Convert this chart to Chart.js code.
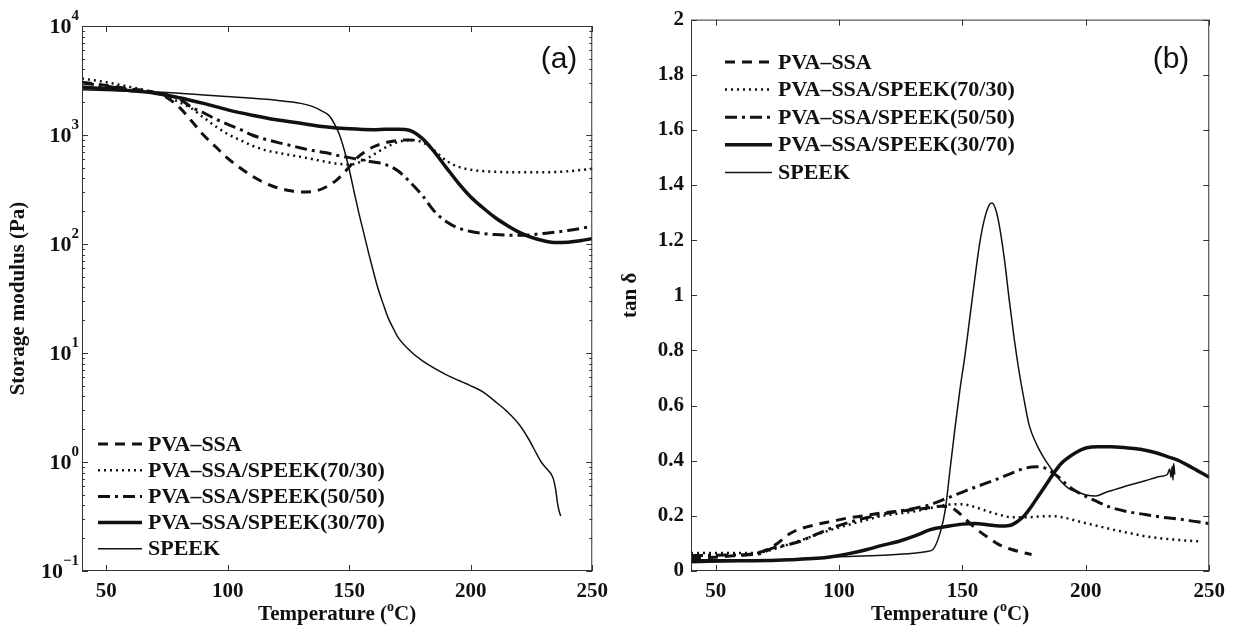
<!DOCTYPE html>
<html>
<head>
<meta charset="utf-8">
<script src="https://cdn.jsdelivr.net/npm/chart.js@4.4.1/dist/chart.umd.min.js"></script>
<style>
html, body { margin: 0; padding: 0; background: #fff; }
#wrap { position: relative; width: 1233px; height: 629px; }
canvas { position: absolute; top: 0; }
#left { left: 0; }
#right { left: 616px; }
</style>
</head>
<body>
<div id="wrap">
<canvas id="left" width="616" height="629"></canvas>
<canvas id="right" width="617" height="629"></canvas>
</div>
<script>
// series names (same order in both panels)
var names = ['PVA\u2013SSA', 'PVA\u2013SSA/SPEEK(70/30)', 'PVA\u2013SSA/SPEEK(50/50)', 'PVA\u2013SSA/SPEEK(30/70)', 'SPEEK'];

var xTicks = [50, 100, 150, 200, 250];
var yTicksA = [0.1, 1, 10, 100, 1000, 10000];
var yTicksB = [0, 0.2, 0.4, 0.6, 0.8, 1, 1.2, 1.4, 1.6, 1.8, 2];

// (a) storage modulus, Pa
var tG_pva = [40, 50, 60, 70, 75, 80, 85, 90, 95, 100, 105, 110, 115, 120, 125, 130, 135, 140, 145, 150, 153, 156, 160, 165, 170, 175, 178];
var G_pva = [3050, 2850, 2650, 2450, 2200, 1800, 1350, 1000, 780, 610, 500, 420, 365, 330, 310, 300, 303, 330, 390, 510, 610, 690, 780, 850, 890, 900, 890];

var tG_7030 = [40, 50, 60, 70, 75, 80, 85, 90, 95, 100, 105, 110, 115, 120, 125, 130, 135, 140, 145, 150, 155, 160, 165, 170, 175, 180, 185, 190, 195, 200, 210, 220, 230, 240, 250];
var G_7030 = [3300, 3050, 2750, 2450, 2250, 2000, 1760, 1450, 1200, 1020, 900, 800, 730, 690, 660, 630, 600, 570, 545, 535, 570, 660, 770, 860, 900, 860, 720, 580, 510, 480, 460, 455, 455, 465, 490];

var tG_5050 = [40, 50, 60, 70, 80, 85, 90, 95, 100, 105, 110, 115, 120, 125, 130, 135, 140, 145, 150, 155, 160, 165, 170, 175, 180, 185, 190, 195, 200, 205, 210, 220, 230, 240, 250];
var G_5050 = [3000, 2800, 2600, 2450, 2150, 1800, 1600, 1400, 1250, 1130, 1000, 920, 860, 810, 760, 720, 690, 650, 620, 590, 565, 535, 470, 370, 280, 200, 160, 140, 130, 125, 122, 120, 125, 133, 145];

var tG_3070 = [40, 50, 60, 70, 80, 90, 100, 110, 120, 130, 140, 150, 160, 165, 170, 175, 180, 185, 190, 195, 200, 205, 210, 215, 220, 225, 230, 235, 240, 245, 250];
var G_3070 = [2750, 2650, 2550, 2420, 2200, 1950, 1700, 1520, 1380, 1280, 1190, 1140, 1120, 1130, 1130, 1100, 930, 700, 500, 360, 270, 215, 175, 148, 128, 115, 107, 103, 104, 107, 112];

var tG_speek = [40, 60, 80, 100, 120, 130, 135, 139, 142, 144, 146, 148, 150, 152, 154, 156, 158, 160, 162, 164, 166, 168, 170, 175, 180, 190, 200, 205, 210, 215, 220, 224, 227, 229, 231, 233, 234, 235, 235.7, 236.3, 237];
var G_speek = [2600, 2520, 2420, 2250, 2080, 1950, 1820, 1650, 1480, 1250, 1000, 720, 480, 300, 190, 125, 82, 55, 38, 28, 21, 17, 14, 10.5, 8.5, 6.3, 5.0, 4.4, 3.6, 2.9, 2.2, 1.6, 1.2, 1.0, 0.88, 0.78, 0.7, 0.55, 0.42, 0.36, 0.32];

// (b) tan delta
var tD_pva = [40, 50, 57, 65, 70, 75, 80, 85, 90, 97, 104, 110, 117, 124, 131, 137, 141, 145, 148, 151, 154, 157, 161, 165, 170, 174, 178];
var D_pva = [0.046, 0.05, 0.055, 0.062, 0.075, 0.1, 0.135, 0.155, 0.167, 0.18, 0.193, 0.2, 0.21, 0.217, 0.223, 0.23, 0.235, 0.232, 0.215, 0.19, 0.165, 0.143, 0.118, 0.095, 0.078, 0.068, 0.06];

var tD_7030 = [40, 55, 67, 72, 77, 84, 91, 97, 104, 111, 117, 124, 131, 138, 144, 150, 155, 160, 165, 170, 177, 182, 187, 192, 197, 204, 211, 218, 224, 231, 237, 243, 247];
var D_7030 = [0.065, 0.065, 0.066, 0.075, 0.089, 0.11, 0.132, 0.15, 0.168, 0.185, 0.199, 0.208, 0.217, 0.23, 0.241, 0.242, 0.232, 0.217, 0.204, 0.195, 0.195, 0.198, 0.199, 0.192, 0.18, 0.165, 0.15, 0.137, 0.126, 0.118, 0.113, 0.109, 0.107];

var tD_5050 = [40, 55, 67, 73, 79, 84, 90, 97, 104, 111, 117, 124, 131, 137, 144, 151, 157, 164, 170, 175, 180, 183, 186, 189, 192, 195, 199, 204, 210, 217, 224, 231, 238, 244, 250];
var D_5050 = [0.056, 0.058, 0.061, 0.083, 0.095, 0.107, 0.13, 0.156, 0.176, 0.193, 0.205, 0.217, 0.228, 0.241, 0.265, 0.29, 0.31, 0.333, 0.355, 0.372, 0.378, 0.375, 0.36, 0.34, 0.315, 0.295, 0.275, 0.254, 0.231, 0.215, 0.205, 0.195, 0.188, 0.18, 0.172];

var tD_3070 = [40, 60, 71, 80, 91, 97, 104, 111, 117, 124, 131, 137, 144, 150, 155, 160, 165, 169, 172, 175, 178, 181, 184, 187, 190, 193, 196, 200, 205, 210, 217, 223, 228, 233, 237, 241, 245, 250];
var D_3070 = [0.037, 0.037, 0.038, 0.041, 0.046, 0.052, 0.063, 0.077, 0.092, 0.107, 0.128, 0.15, 0.162, 0.17, 0.172, 0.168, 0.163, 0.165, 0.178, 0.2, 0.235, 0.275, 0.315, 0.355, 0.39, 0.412, 0.43, 0.446, 0.451, 0.451, 0.446, 0.44, 0.43, 0.415, 0.403, 0.385, 0.365, 0.34];

var tD_speek = [40, 60, 80, 100, 120, 130, 135, 138, 141, 143, 145, 147, 149, 151, 153, 155, 157, 159, 161, 162, 163.5, 165, 167, 169, 171, 173, 175, 177, 180, 183, 186, 189, 193, 197, 200, 204, 208, 212, 217, 224, 230, 233, 234, 234.5, 235, 235.3, 235.6, 236];
var D_speek = [0.03, 0.035, 0.042, 0.052, 0.058, 0.064, 0.07, 0.078, 0.14, 0.22, 0.37, 0.52, 0.66, 0.78, 0.92, 1.06, 1.19, 1.28, 1.33, 1.335, 1.31, 1.25, 1.13, 0.98, 0.84, 0.72, 0.62, 0.53, 0.46, 0.41, 0.37, 0.335, 0.3, 0.285, 0.276, 0.272, 0.285, 0.296, 0.31, 0.327, 0.343, 0.35, 0.37, 0.34, 0.38, 0.33, 0.39, 0.35];

// line styles
var widths = [3, 2.5, 3, 3.5, 1.5];
var dashes = [[10, 7], [2, 4], [12, 5, 3, 5], [], []];

var serif = "'Liberation Serif', 'Times New Roman', serif";
var ink = '#111';

function makeSets(tList, vList) {
    return names.map(function (n, i) {
        return {
            label: n,
            data: tList[i].map(function (t, k) { return { x: t, y: vList[i][k] }; }),
            borderColor: ink,
            backgroundColor: ink,
            borderWidth: widths[i],
            borderDash: dashes[i],
            pointRadius: 0,
            pointStyle: 'line',
            fill: false,
            tension: 0.4,
            cubicInterpolationMode: 'monotone'
        };
    });
}

// frame with inward ticks, panel letter, legend and x title
var boxPlugin = {
    id: 'box',
    afterDatasetsDraw: function (chart, args, o) {
        var ctx = chart.ctx, a = chart.chartArea, x = chart.scales.x, y = chart.scales.y;
        ctx.save();
        ctx.setLineDash([]);
        ctx.strokeStyle = '#333';
        ctx.lineWidth = 1;
        ctx.strokeRect(a.left + 0.5, a.top + 0.5, a.right - a.left - 1, a.bottom - a.top - 1);
        ctx.beginPath();
        x.ticks.forEach(function (t) {
            var px = Math.round(x.getPixelForValue(t.value)) + 0.5;
            ctx.moveTo(px, a.bottom); ctx.lineTo(px, a.bottom - 6);
            ctx.moveTo(px, a.top); ctx.lineTo(px, a.top + 6);
        });
        y.ticks.forEach(function (t) {
            var py = Math.round(y.getPixelForValue(t.value)) + 0.5;
            ctx.moveTo(a.left, py); ctx.lineTo(a.left + 6, py);
            ctx.moveTo(a.right, py); ctx.lineTo(a.right - 6, py);
        });
        (o.minor || []).forEach(function (v) {
            var py = Math.round(y.getPixelForValue(v)) + 0.5;
            ctx.moveTo(a.left, py); ctx.lineTo(a.left + 3, py);
            ctx.moveTo(a.right, py); ctx.lineTo(a.right - 3, py);
        });
        ctx.stroke();

        // panel letter
        ctx.fillStyle = ink;
        ctx.font = "30px 'Liberation Sans', Arial, sans-serif";
        ctx.textAlign = 'center';
        ctx.textBaseline = 'middle';
        ctx.fillText(o.letter, o.letterX, o.letterY);

        // legend
        ctx.font = 'bold 22px ' + serif;
        ctx.textAlign = 'left';
        chart.data.datasets.forEach(function (ds, i) {
            var ry = o.legY + i * o.legStep;
            ctx.beginPath();
            ctx.lineWidth = ds.borderWidth;
            ctx.setLineDash(ds.borderDash || []);
            ctx.strokeStyle = ink;
            ctx.moveTo(o.legX1, ry);
            ctx.lineTo(o.legX2, ry);
            ctx.stroke();
            ctx.setLineDash([]);
            ctx.fillText(ds.label, o.legTx, ry + 1);
        });

        // x axis title with superscript o
        var f1 = 'bold 21px ' + serif, f2 = 'bold 14px ' + serif;
        var p1 = 'Temperature (', p2 = 'o', p3 = 'C)';
        ctx.font = f1;
        var w1 = ctx.measureText(p1).width, w3 = ctx.measureText(p3).width;
        ctx.font = f2;
        var w2 = ctx.measureText(p2).width;
        var cx = (a.left + a.right) / 2, tx = cx - (w1 + w2 + w3) / 2, ty = 615;
        ctx.font = f1;
        ctx.fillText(p1, tx, ty);
        ctx.fillText(p3, tx + w1 + w2, ty);
        ctx.font = f2;
        ctx.fillText(p2, tx + w1, ty - 8);
        ctx.restore();
    }
};

// 10^n labels for the log axis
var logLabels = {
    id: 'logLabels',
    afterDraw: function (chart, args, o) {
        if (!o.on) return;
        var ctx = chart.ctx, y = chart.scales.y;
        ctx.save();
        ctx.fillStyle = ink;
        ctx.textBaseline = 'middle';
        ctx.textAlign = 'left';
        yTicksA.forEach(function (v) {
            var n = Math.round(Math.log10(v));
            var ex = n < 0 ? '\u2212' + (-n) : String(n);
            var py = y.getPixelForValue(v);
            ctx.font = 'bold 15px ' + serif;
            var we = ctx.measureText(ex).width;
            ctx.font = 'bold 22px ' + serif;
            var wb = ctx.measureText('10').width;
            var xr = o.right;
            ctx.fillText('10', xr - we - wb, py + 1);
            ctx.font = 'bold 15px ' + serif;
            ctx.fillText(ex, xr - we, py - 10);
        });
        ctx.restore();
    }
};

function xScale() {
    return {
        type: 'linear',
        min: 40,
        max: 250,
        afterBuildTicks: function (s) { s.ticks = xTicks.map(function (v) { return { value: v }; }); },
        afterFit: function (s) { s.height = 58; },
        grid: { display: false, drawTicks: false },
        border: { display: false },
        ticks: { color: ink, padding: 8, font: { family: serif, size: 21, weight: 'bold' } },
        title: { display: false }
    };
}

var minorA = [];
[0.1, 1, 10, 100, 1000].forEach(function (d) {
    for (var m = 2; m <= 9; m++) minorA.push(d * m);
});

new Chart(document.getElementById('left'), {
    type: 'line',
    data: { datasets: makeSets([tG_pva, tG_7030, tG_5050, tG_3070, tG_speek], [G_pva, G_7030, G_5050, G_3070, G_speek]) },
    options: {
        responsive: false,
        animation: false,
        layout: { padding: { top: 26, right: 18, bottom: 0, left: 0 } },
        plugins: {
            legend: { display: false },
            tooltip: { enabled: false },
            box: { minor: minorA, letter: '(a)', letterX: 559, letterY: 60, legX1: 98, legX2: 142, legTx: 148, legY: 444, legStep: 26.2 },
            logLabels: { on: true, right: 79 }
        },
        scales: {
            x: xScale(),
            y: {
                type: 'logarithmic',
                min: 0.1,
                max: 10000,
                afterBuildTicks: function (s) { s.ticks = yTicksA.map(function (v) { return { value: v }; }); },
                afterFit: function (s) { s.width = 82; },
                grid: { display: false, drawTicks: false },
                border: { display: false },
                ticks: { display: false },
                title: { display: true, text: 'Storage modulus (Pa)', color: ink, padding: { top: 6, bottom: 0 }, font: { family: serif, size: 21, weight: 'bold' } }
            }
        }
    },
    plugins: [boxPlugin, logLabels]
});

new Chart(document.getElementById('right'), {
    type: 'line',
    data: { datasets: makeSets([tD_pva, tD_7030, tD_5050, tD_3070, tD_speek], [D_pva, D_7030, D_5050, D_3070, D_speek]) },
    options: {
        responsive: false,
        animation: false,
        layout: { padding: { top: 19, right: 18, bottom: 0, left: 0 } },
        plugins: {
            legend: { display: false },
            tooltip: { enabled: false },
            box: { minor: [], letter: '(b)', letterX: 555, letterY: 60, legX1: 109, legX2: 156, legTx: 162, legY: 62, legStep: 27.6 },
            logLabels: { on: false }
        },
        scales: {
            x: xScale(),
            y: {
                type: 'linear',
                min: 0,
                max: 2,
                afterBuildTicks: function (s) { s.ticks = yTicksB.map(function (v) { return { value: v }; }); },
                afterFit: function (s) { s.width = 75; },
                grid: { display: false, drawTicks: false },
                border: { display: false },
                ticks: { color: ink, padding: 7, font: { family: serif, size: 21, weight: 'bold' }, callback: function (v) { return String(Math.round(v * 10) / 10); } },
                title: { display: true, text: 'tan \u03B4', color: ink, padding: { top: 2, bottom: 0 }, font: { family: serif, size: 21, weight: 'bold' } }
            }
        }
    },
    plugins: [boxPlugin, logLabels]
});
</script>
</body>
</html>
